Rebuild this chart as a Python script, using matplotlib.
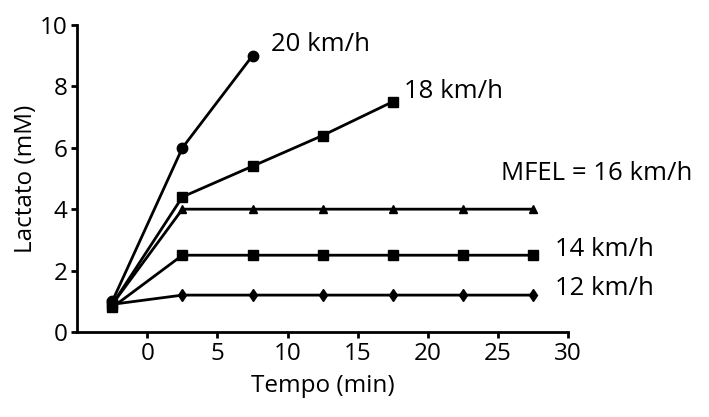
import matplotlib
matplotlib.use("Agg")
import matplotlib.pyplot as plt

times = [-2.5, 2.5, 7.5, 12.5, 17.5, 22.5, 27.5]
v20 = [1.0, 6.0, 9.0]
v18 = [0.9, 4.4, 5.4, 6.4, 7.5]
v16 = [0.9, 4.0, 4.0, 4.0, 4.0, 4.0, 4.0]
v14 = [0.8, 2.5, 2.5, 2.5, 2.5, 2.5, 2.5]
v12 = [0.9, 1.2, 1.2, 1.2, 1.2, 1.2, 1.2]
labels = ["20 km/h", "18 km/h", "MFEL = 16 km/h", "14 km/h", "12 km/h"]
xticks = [0, 5, 10, 15, 20, 25, 30]
yticks = [0, 2, 4, 6, 8, 10]

plt.rcParams['font.family'] = ['Open Sans', 'DejaVu Sans']
fig = plt.figure(figsize=(7.09, 4.17), dpi=100)
ax = fig.add_axes([0.109, 0.204, 0.692, 0.736])

lw = 2
ax.plot(times[:3], v20, color='black', lw=lw, marker='o', ms=7.5, clip_on=False)
ax.plot(times[:5], v18, color='black', lw=lw, marker='s', ms=7, clip_on=False)
ax.plot(times, v16, color='black', lw=lw, marker='^', ms=6, clip_on=False)
ax.plot(times, v14, color='black', lw=lw, marker='s', ms=7, clip_on=False)
ax.plot(times, v12, color='black', lw=lw, marker='d', ms=6, clip_on=False)

afs = 18.5
ax.text(8.8, 9.35, labels[0], fontsize=afs, va='center', ha='left')
ax.text(18.3, 7.85, labels[1], fontsize=afs, va='center', ha='left')
ax.text(25.2, 5.15, labels[2], fontsize=afs, va='center', ha='left', clip_on=False)
ax.text(29.1, 2.7, labels[3], fontsize=afs, va='center', ha='left', clip_on=False)
ax.text(29.1, 1.4, labels[4], fontsize=afs, va='center', ha='left', clip_on=False)

fs = 17.5
ax.set_xlim(-5, 30)
ax.set_ylim(0, 10)
ax.set_xticks(xticks)
ax.set_yticks(yticks)
for s in ['top', 'right']:
    ax.spines[s].set_visible(False)
for s in ['left', 'bottom']:
    ax.spines[s].set_linewidth(2)
ax.tick_params(width=2, length=4, labelsize=fs, direction='out', pad=3)
ax.set_xlabel("Tempo (min)", fontsize=fs, labelpad=6)
ax.set_ylabel("Lactato (mM)", fontsize=fs, labelpad=1)

fig.savefig("out.png", dpi=100)
